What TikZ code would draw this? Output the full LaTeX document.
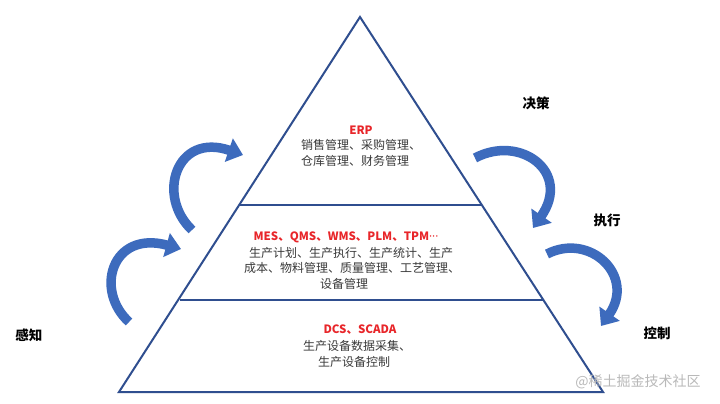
\documentclass[tikz,border=0pt]{standalone}
\usepackage{fontspec}
\setmainfont{Noto Sans CJK SC}
\newfontfamily\latinfont{Noto Sans}
\usetikzlibrary{arrows.meta}
\definecolor{edge}{HTML}{2F4E8F}
\definecolor{arrowblue}{HTML}{3D6BBD}
\definecolor{redtxt}{HTML}{E8262A}
\definecolor{graytxt}{HTML}{3A3A3A}
\tikzset{
  red label/.style={text=redtxt, font=\fontsize{11.5}{13}\selectfont\bfseries, inner sep=0pt},
  body/.style={text=graytxt, font=\fontsize{12}{13}\selectfont, inner sep=0pt},
  side/.style={text=black, font=\fontsize{13.5}{15}\selectfont\bfseries, inner sep=0pt},
  bend arrow/.style={draw=arrowblue, line width=9.5pt, line cap=butt,
    -{Triangle[length=15pt, width=24pt]}},
  frame/.style={draw=edge, line width=2pt, line join=miter}
}
\begin{document}
\begin{tikzpicture}[x=1pt,y=-1pt]
\path[use as bounding box, fill=white] (0,0) rectangle (720,404);
% pyramid
\coordinate (apex) at (360,17);
\coordinate (bl) at (119,392);
\coordinate (br) at (603,392);
\coordinate (m1l) at (240,205);
\coordinate (m1r) at (482,205);
\coordinate (m2l) at (180,300);
\coordinate (m2r) at (543,300);
\draw[frame] (apex) -- (bl) -- (br) -- cycle;
\draw[frame, line width=1.6pt] (m1l) -- (m1r);
\draw[frame, line width=1.6pt] (m2l) -- (m2r);
% top layer text
\node[red label] (erp) at (361,130) {ERP};
\node[body] (t1) at (361,145) {销售管理、采购管理、};
\node[body] (t2) at (355,161) {仓库管理、财务管理};
% middle layer
\node[red label] (mes) at (346,237) {MES、QMS、WMS、PLM、TPM{\latinfont\bfseries ···}};
\node[body] (m1) at (351,253) {生产计划、生产执行、生产统计、生产};
\node[body] (m2) at (352,268) {成本、物料管理、质量管理、工艺管理、};
\node[body] (m3) at (344,284) {设备管理};
% bottom layer
\node[red label] (dcs) at (360,330) {DCS、SCADA};
\node[body] (b1) at (357,346) {生产设备数据采集、};
\node[body] (b2) at (354,362) {生产设备控制};
% side labels
\node[side] (jc) at (536,103) {决策};
\node[side] (zx) at (607,220) {执行};
\node[side] (kz) at (657,333) {控制};
\node[side] (gz) at (29,335) {感知};
% arrows
\coordinate (a1s) at (192,230);
\coordinate (a1e) at (243,155);
\coordinate (a2s) at (129,322);
\coordinate (a2e) at (181,249);
\coordinate (a3s) at (475,158);
\coordinate (a3e) at (533,228);
\coordinate (a4s) at (547,254);
\coordinate (a4e) at (601,326);
\draw[bend arrow] (a1s) .. controls (156,196) and (176,132) .. (a1e);
\draw[bend arrow] (a2s) .. controls (94,290) and (112,230) .. (a2e);
\draw[bend arrow] (a3s) .. controls (520,134) and (572,172) .. (a3e);
\draw[bend arrow] (a4s) .. controls (590,232) and (636,276) .. (a4e);
% watermark
\node[text=gray!55, font=\fontsize{14}{16}\selectfont, inner sep=0pt] (wm) at (638,382) {@稀土掘金技术社区};
\end{tikzpicture}
\end{document}
